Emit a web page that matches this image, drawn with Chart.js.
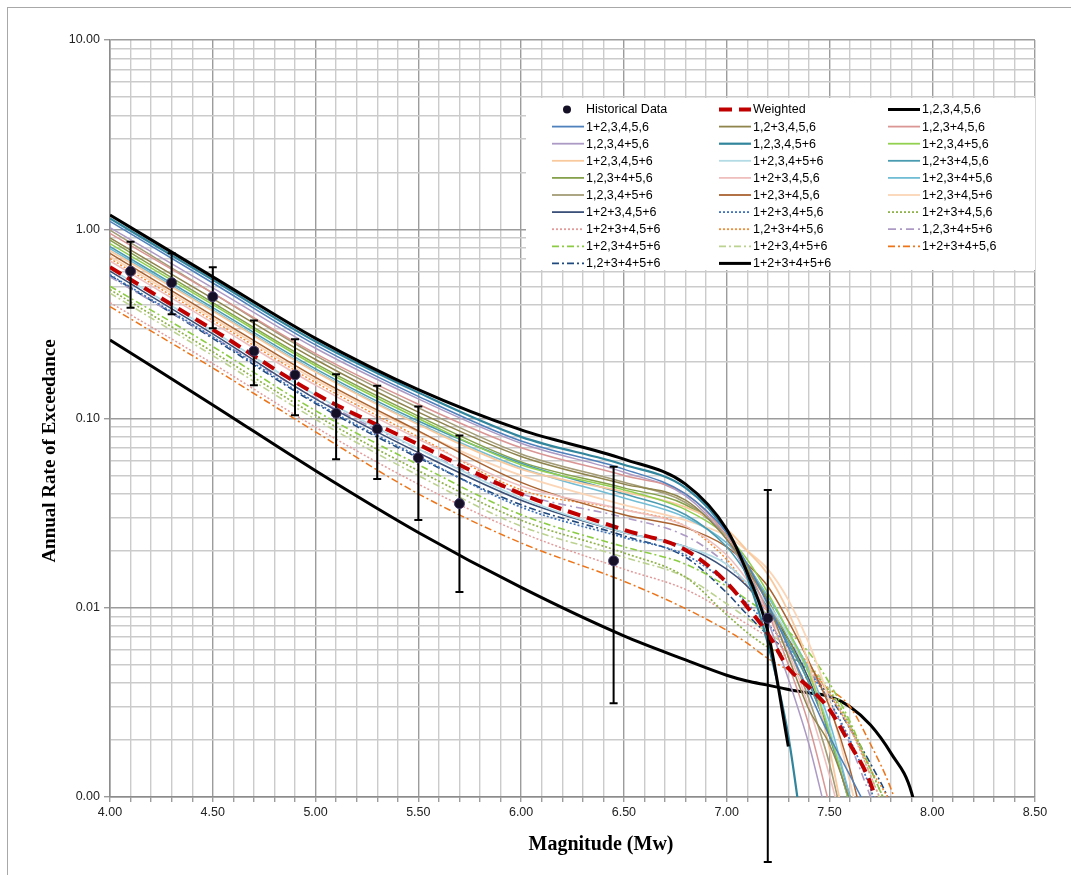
<!DOCTYPE html>
<html>
<head>
<meta charset="utf-8">
<script src="https://cdn.jsdelivr.net/npm/chart.js@4.4.0/dist/chart.umd.min.js"></script>
<style>
  html, body { margin: 0; padding: 0; background: #fff; }
  #wrap { position: relative; width: 1071px; height: 875px; }
  #frame { position: absolute; left: 7px; top: 7px; right: 0; bottom: 0;
           border-left: 1.5px solid #a8a8a8; border-top: 1.5px solid #a8a8a8; pointer-events: none; }
</style>
</head>
<body>
<div id="wrap">
  <canvas id="myChart"></canvas>
  <div id="frame"></div>
</div>
<script>
// magnitude grid shared by all model curves
const magnitudes = [4.0, 4.5, 5.0, 5.5, 6.0, 6.5, 6.8, 7.0, 7.1, 7.2, 7.3, 7.4, 7.5, 7.6, 7.7, 7.8, 7.9, 8.0];

// historical data + error bars
const histMag   = [4.1, 4.3, 4.5, 4.7, 4.9, 5.1, 5.3, 5.5, 5.7, 6.45, 7.2];
const histRate  = [0.600, 0.522, 0.440, 0.227, 0.170, 0.1066, 0.0880, 0.0620, 0.0355, 0.0177, 0.0088];
const histUpper = [0.859, 0.746, 0.630, 0.329, 0.262, 0.1715, 0.1489, 0.1156, 0.0812, 0.0556, 0.0419];
const histLower = [0.385, 0.356, 0.300, 0.150, 0.104, 0.0610, 0.0479, 0.0291, 0.0121, 0.00313, 0.000453];

// annual rate of exceedance for each model (null = curve has left the plot)
const weighted   = [0.63, 0.295, 0.135, 0.073, 0.040, 0.0258, 0.0202, 0.0136, 0.0101, 0.0073, 0.0048, 0.0038, 0.0029, 0.0019, 0.00118, 0.0005, null, null];
const m_1_2_3_4_5_6 = [1.19, 0.56, 0.265, 0.142, 0.087, 0.061, 0.045, 0.026, 0.0153, 0.0075, 0.00185, null, null, null, null, null, null, null];
const m_12_3_4_5_6 = [1.10, 0.52, 0.245, 0.131, 0.076, 0.054, 0.040, 0.025, 0.017, 0.0105, 0.0062, 0.0036, 0.0021, 0.0013, 0.0008, null, null, null];
const m_1_23_4_5_6 = [0.90, 0.43, 0.205, 0.108, 0.063, 0.045, 0.037, 0.023, 0.016, 0.0105, 0.0055, 0.0029, 0.0019, 0.00095, 0.0004, null, null, null];
const m_1_2_34_5_6 = [0.95, 0.46, 0.22, 0.119, 0.070, 0.050, 0.040, 0.024, 0.016, 0.0095, 0.005, 0.0024, 0.0009, 0.0003, null, null, null, null];
const m_1_2_3_45_6 = [1.02, 0.49, 0.235, 0.127, 0.074, 0.052, 0.039, 0.023, 0.015, 0.0085, 0.0042, 0.0019, 0.0007, 0.0003, null, null, null, null];
const m_1_2_3_4_56 = [1.14, 0.54, 0.255, 0.137, 0.080, 0.057, 0.043, 0.025, 0.0145, 0.0065, 0.0021, 0.00035, null, null, null, null, null, null];
const m_12_3_45_6 = [0.84, 0.40, 0.19, 0.100, 0.057, 0.042, 0.033, 0.024, 0.018, 0.012, 0.0075, 0.0045, 0.0022, 0.0009, 0.0003, null, null, null];
const m_12_3_4_56 = [0.77, 0.37, 0.176, 0.093, 0.054, 0.041, 0.034, 0.026, 0.020, 0.015, 0.0095, 0.0050, 0.0018, 0.0005, null, null, null, null];
const m_12_3_456 = [0.62, 0.29, 0.133, 0.069, 0.038, 0.025, 0.021, 0.017, 0.0135, 0.0105, 0.0072, 0.0045, 0.0023, 0.0009, 0.0003, null, null, null];
const m_1_234_5_6 = [0.81, 0.385, 0.183, 0.097, 0.058, 0.040, 0.031, 0.021, 0.015, 0.010, 0.0065, 0.0040, 0.0021, 0.0009, 0.0003, null, null, null];
const m_1_2_345_6 = [0.875, 0.41, 0.195, 0.103, 0.059, 0.043, 0.035, 0.024, 0.0165, 0.011, 0.0068, 0.0040, 0.0021, 0.0009, 0.0003, null, null, null];
const m_123_4_5_6 = [0.68, 0.32, 0.15, 0.078, 0.044, 0.033, 0.027, 0.019, 0.014, 0.0095, 0.0058, 0.0030, 0.0013, 0.0005, null, null, null, null];
const m_12_345_6 = [0.79, 0.375, 0.178, 0.094, 0.055, 0.038, 0.030, 0.022, 0.0165, 0.0115, 0.0075, 0.0047, 0.0025, 0.0010, 0.0004, null, null, null];
const m_1_2_3_456 = [0.99, 0.46, 0.215, 0.114, 0.065, 0.046, 0.036, 0.024, 0.017, 0.011, 0.0062, 0.0033, 0.0015, 0.0005, null, null, null, null];
const m_12_34_5_6 = [0.745, 0.35, 0.165, 0.086, 0.046, 0.031, 0.0265, 0.021, 0.017, 0.013, 0.0085, 0.0052, 0.0030, 0.0014, 0.0005, null, null, null];
const m_12_34_56 = [0.72, 0.34, 0.16, 0.085, 0.050, 0.035, 0.029, 0.024, 0.020, 0.016, 0.011, 0.0065, 0.0032, 0.0012, 0.0004, null, null, null];
const m_123_4_56 = [0.60, 0.28, 0.127, 0.066, 0.037, 0.025, 0.021, 0.016, 0.013, 0.0098, 0.0068, 0.0042, 0.0022, 0.0010, 0.0004, null, null, null];
const m_123_45_6 = [0.575, 0.27, 0.122, 0.063, 0.034, 0.0235, 0.019, 0.0135, 0.0105, 0.0082, 0.0062, 0.0046, 0.0032, 0.0020, 0.0011, 0.0005, null, null];
const m_1234_5_6 = [0.48, 0.225, 0.104, 0.053, 0.029, 0.0195, 0.0145, 0.0092, 0.0074, 0.0062, 0.0055, 0.0048, 0.0036, 0.0024, 0.0014, 0.0008, null, null];
const m_1234_56 = [0.41, 0.195, 0.09, 0.045, 0.025, 0.016, 0.0125, 0.0095, 0.0082, 0.0070, 0.0058, 0.0047, 0.0035, 0.0023, 0.0013, 0.0007, null, null];
const m_1_2345_6 = [0.70, 0.33, 0.155, 0.080, 0.042, 0.033, 0.027, 0.018, 0.013, 0.0095, 0.0068, 0.0050, 0.0035, 0.0023, 0.0014, 0.0009, 0.0004, null];
const m_1_2_3456 = [0.56, 0.27, 0.128, 0.069, 0.040, 0.030, 0.024, 0.017, 0.013, 0.0095, 0.0068, 0.0048, 0.0032, 0.0019, 0.0010, 0.0005, null, null];
const m_12_3456 = [0.50, 0.24, 0.11, 0.057, 0.031, 0.021, 0.017, 0.013, 0.011, 0.0092, 0.0075, 0.0058, 0.0040, 0.0025, 0.0014, 0.0008, null, null];
const m_123_456 = [0.46, 0.215, 0.099, 0.050, 0.027, 0.0185, 0.0145, 0.0105, 0.0088, 0.0074, 0.0062, 0.0050, 0.0037, 0.0024, 0.0013, 0.0007, null, null];
const m_12345_6 = [0.39, 0.185, 0.085, 0.040, 0.022, 0.0138, 0.0099, 0.0076, 0.0065, 0.0054, 0.0047, 0.0042, 0.0037, 0.0030, 0.0019, 0.0011, 0.0005, null];
const m_1_23456 = [0.57, 0.265, 0.12, 0.062, 0.035, 0.024, 0.0185, 0.012, 0.0092, 0.0072, 0.0058, 0.0046, 0.0034, 0.0023, 0.0015, 0.0009, 0.0004, null];
const m_123456 = [0.26, 0.118, 0.053, 0.025, 0.0128, 0.0071, 0.0053, 0.0044, 0.0041, 0.0039, 0.0037, 0.00355, 0.0034, 0.0030, 0.0024, 0.0017, 0.00105, 0.0003];

// y axis grid / tick values (log)
const rateTicks = [0.001, 0.002, 0.003, 0.004, 0.005, 0.006, 0.007, 0.008, 0.009,
                   0.01, 0.02, 0.03, 0.04, 0.05, 0.06, 0.07, 0.08, 0.09,
                   0.1, 0.2, 0.3, 0.4, 0.5, 0.6, 0.7, 0.8, 0.9,
                   1, 2, 3, 4, 5, 6, 7, 8, 9, 10];

const DOT = [2, 2];
const DASHDOT = [7, 3, 2, 3];

// label, values, color, width, dash  (legend order, row by row)
const models = [
  ["Weighted", weighted, "#c00000", 4, [13, 7]],
  ["1,2,3,4,5,6", m_1_2_3_4_5_6, "#000000", 3, []],
  ["1+2,3,4,5,6", m_12_3_4_5_6, "#4f81bd", 1.5, []],
  ["1,2+3,4,5,6", m_1_23_4_5_6, "#8e844c", 1.5, []],
  ["1,2,3+4,5,6", m_1_2_34_5_6, "#d99694", 1.5, []],
  ["1,2,3,4+5,6", m_1_2_3_45_6, "#ad9ac4", 1.5, []],
  ["1,2,3,4,5+6", m_1_2_3_4_56, "#31859c", 2.2, []],
  ["1+2,3,4+5,6", m_12_3_45_6, "#92d050", 1.5, []],
  ["1+2,3,4,5+6", m_12_3_4_56, "#f9c99e", 1.8, []],
  ["1+2,3,4+5+6", m_12_3_456, "#b2dbe6", 1.8, []],
  ["1,2+3+4,5,6", m_1_234_5_6, "#4a9bb0", 1.5, []],
  ["1,2,3+4+5,6", m_1_2_345_6, "#86a14c", 1.5, []],
  ["1+2+3,4,5,6", m_123_4_5_6, "#efbfbe", 1.6, []],
  ["1+2,3+4+5,6", m_12_345_6, "#72bdd6", 1.6, []],
  ["1,2,3,4+5+6", m_1_2_3_456, "#a39c76", 1.6, []],
  ["1+2,3+4,5,6", m_12_34_5_6, "#ab6330", 1.5, []],
  ["1+2,3+4,5+6", m_12_34_56, "#fbd5b5", 1.8, []],
  ["1+2+3,4,5+6", m_123_4_56, "#3a5078", 1.5, []],
  ["1+2+3,4+5,6", m_123_45_6, "#3f74bd", 1.7, DOT],
  ["1+2+3+4,5,6", m_1234_5_6, "#8fb34a", 1.7, DOT],
  ["1+2+3+4,5+6", m_1234_56, "#e39a9a", 1.5, DOT],
  ["1,2+3+4+5,6", m_1_2345_6, "#f58b34", 1.5, DOT],
  ["1,2,3+4+5+6", m_1_2_3456, "#ad9ac4", 1.6, [8, 4, 2, 4]],
  ["1+2,3+4+5+6", m_12_3456, "#8ccc45", 1.6, DASHDOT],
  ["1+2+3,4+5+6", m_123_456, "#bcd290", 1.6, DASHDOT],
  ["1+2+3+4+5,6", m_12345_6, "#ee7418", 1.5, DASHDOT],
  ["1,2+3+4+5+6", m_1_23456, "#1f497d", 1.6, DASHDOT],
  ["1+2+3+4+5+6", m_123456, "#000000", 3, []]
];

const datasets = [{
  label: "Historical Data",
  data: histMag.map((m, i) => ({x: m, y: histRate[i]})),
  showLine: false,
  pointRadius: 5,
  pointBackgroundColor: "#151025",
  pointBorderColor: "#463c6e",
  pointBorderWidth: 1,
  clip: false
}];

models.forEach((row) => {
  datasets.push({
    label: row[0],
    data: magnitudes.map((m, i) => ({x: m, y: row[1][i]})),
    showLine: true,
    borderColor: row[2],
    backgroundColor: row[2],
    borderWidth: row[3],
    borderDash: row[4],
    pointRadius: 0,
    fill: false,
    spanGaps: false,
    cubicInterpolationMode: "monotone"
  });
});

// error bars for historical data, drawn just before its markers
const errorBars = {
  id: "errorBars",
  beforeDatasetDraw(chart, args) {
    if (args.index !== 0) return;
    const ctx = chart.ctx;
    const xs = chart.scales.x, ys = chart.scales.y;
    ctx.save();
    ctx.strokeStyle = "#000";
    ctx.lineWidth = 2;
    ctx.setLineDash([]);
    histMag.forEach((m, i) => {
      const px = xs.getPixelForValue(m);
      const top = ys.getPixelForValue(histUpper[i]);
      const bot = ys.getPixelForValue(histLower[i]);
      ctx.beginPath();
      ctx.moveTo(px, top); ctx.lineTo(px, bot);
      ctx.moveTo(px - 4, top); ctx.lineTo(px + 4, top);
      ctx.moveTo(px - 4, bot); ctx.lineTo(px + 4, bot);
      ctx.stroke();
    });
    ctx.restore();
  }
};

// legend box inside the plot, 3 columns
const legendBox = {
  id: "legendBox",
  beforeDatasetsDraw(chart) {
    const ctx = chart.ctx;
    const area = chart.chartArea;
    const left = 526, top = 98;
    ctx.save();
    ctx.fillStyle = "#fff";
    ctx.fillRect(left, top, area.right - left, 172);
    ctx.font = '12.5px "Liberation Sans", Arial, sans-serif';
    ctx.textBaseline = "middle";
    ctx.fillStyle = "#000";
    const colX = [552, 719, 888];
    chart.data.datasets.forEach((ds, i) => {
      const col = i % 3, row = Math.floor(i / 3);
      const x0 = colX[col];
      const y = 109.5 + row * 17.1;
      if (i === 0) {
        ctx.beginPath();
        ctx.fillStyle = ds.pointBackgroundColor;
        ctx.arc(x0 + 15, y, 4, 0, Math.PI * 2);
        ctx.fill();
      } else {
        ctx.beginPath();
        ctx.strokeStyle = ds.borderColor;
        ctx.lineWidth = Math.max(ds.borderWidth, 1.8);
        ctx.setLineDash(ds.borderDash || []);
        ctx.moveTo(x0, y);
        ctx.lineTo(x0 + 32, y);
        ctx.stroke();
        ctx.setLineDash([]);
      }
      ctx.fillStyle = "#000";
      ctx.fillText(ds.label, x0 + 34, y + 0.5);
    });
    ctx.restore();
  }
};

const axisTitles = {
  id: "axisTitles",
  afterDraw(chart) {
    const ctx = chart.ctx;
    ctx.save();
    ctx.fillStyle = "#000";
    ctx.textAlign = "center";
    ctx.textBaseline = "middle";
    ctx.font = 'bold 20px "Liberation Serif", "Times New Roman", serif';
    ctx.fillText("Magnitude (Mw)", 601, 845);
    ctx.translate(50, 451);
    ctx.rotate(-Math.PI / 2);
    ctx.font = 'bold 19px "Liberation Serif", "Times New Roman", serif';
    ctx.fillText("Annual Rate of Exceedance", 0, 0);
    ctx.restore();
  }
};

Chart.defaults.font.family = '"Liberation Sans", Arial, sans-serif';
Chart.defaults.color = "#222";
Chart.defaults.animation = false;

function isHalf(v) { return Math.abs(v * 2 - Math.round(v * 2)) < 1e-6; }
function isDecade(v) { const l = Math.log10(v); return Math.abs(l - Math.round(l)) < 1e-6; }

var ctx = document.getElementById("myChart");

var myChart = new Chart(ctx, {
  type: "scatter",
  data: { datasets: datasets },
  options: {
    responsive: true,
    maintainAspectRatio: false,
    animation: false,
    layout: { padding: { top: 40, right: 36, left: 0, bottom: 0 } },
    plugins: { legend: { display: false }, tooltip: { enabled: false } },
    scales: {
      x: {
        type: "linear",
        min: 4,
        max: 8.5,
        afterFit: (scale) => { scale.height = 78; },
        ticks: {
          stepSize: 0.1,
          autoSkip: false,
          maxRotation: 0,
          padding: 3,
          font: { size: 12.5 },
          callback: (v) => isHalf(v) ? Number(v).toFixed(2) : ""
        },
        grid: {
          color: (c) => isHalf(c.tick.value) ? "#9c9c9c" : "#cbcbcb",
          lineWidth: 1.4,
          tickLength: 5,
          tickColor: "#9c9c9c"
        },
        border: { color: "#8c8c8c", width: 1.5 }
      },
      y: {
        type: "logarithmic",
        min: 0.001,
        max: 10,
        afterFit: (scale) => { scale.width = 110; },
        afterBuildTicks: (scale) => { scale.ticks = rateTicks.map((v) => ({value: v})); },
        ticks: {
          autoSkip: false,
          padding: 4,
          font: { size: 12.5 },
          callback: (v) => isDecade(v) ? Number(v).toFixed(2) : ""
        },
        grid: {
          color: (c) => isDecade(c.tick.value) ? "#9c9c9c" : "#cbcbcb",
          lineWidth: 1.4,
          tickLength: 6,
          tickColor: (c) => isDecade(c.tick.value) ? "#9c9c9c" : "rgba(0,0,0,0)"
        },
        border: { color: "#8c8c8c", width: 1.5 }
      }
    }
  },
  plugins: [errorBars, legendBox, axisTitles]
});
</script>
</body>
</html>
